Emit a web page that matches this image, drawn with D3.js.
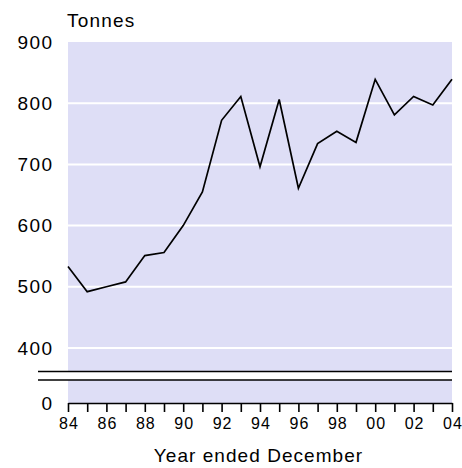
<!DOCTYPE html>
<html>
<head>
<meta charset="utf-8">
<script src="https://cdn.jsdelivr.net/npm/d3@7"></script>
<style>
  html, body { margin: 0; padding: 0; background: #ffffff; }
  svg { display: block; }
  text { font-family: "Liberation Sans", Arial, sans-serif; fill: #000; }
</style>
</head>
<body>
<svg id="chart" width="462" height="468"></svg>
<script>
// ---- data ----
const years = [1984,1985,1986,1987,1988,1989,1990,1991,1992,1993,1994,1995,1996,1997,1998,1999,2000,2001,2002,2003,2004];
const tonnes = [533,492,500,508,551,556,600,655,772,811,696,806,661,734,754,736,839,781,811,797,839];
const yTickValues = [400,500,600,700,800,900];
const yBreakLabel = "0";
const yUnitLabel = "Tonnes";
const xTitle = "Year ended December";

// ---- layout ----
const plotLeft = 68, plotRight = 452, plotTop = 42, plotBottom = 403;
const breakTop = 371.5, breakBottom = 380;
const FONT = "Liberation Sans, Arial, sans-serif";

const svg = d3.select("#chart");

const x = d3.scaleLinear().domain([1984, 2004]).range([plotLeft, plotRight]);
const y = d3.scaleLinear().domain([400, 900]).range([348, plotTop]);

// plot background
svg.append("rect")
  .attr("x", plotLeft).attr("y", plotTop)
  .attr("width", plotRight - plotLeft).attr("height", plotBottom - plotTop)
  .attr("fill", "#dedef6");

// gridlines
svg.append("g")
  .selectAll("line")
  .data(yTickValues.filter(v => v < 900))
  .join("line")
  .attr("x1", plotLeft).attr("x2", plotRight)
  .attr("y1", d => y(d)).attr("y2", d => y(d))
  .attr("stroke", "#ffffff")
  .attr("stroke-width", 2);

// axis break band
svg.append("rect")
  .attr("x", 38).attr("y", breakTop)
  .attr("width", plotRight - 38).attr("height", breakBottom - breakTop)
  .attr("fill", "#ffffff");
[breakTop, breakBottom].forEach(yy => {
  svg.append("line")
    .attr("x1", 38).attr("x2", plotRight)
    .attr("y1", yy).attr("y2", yy)
    .attr("stroke", "#000").attr("stroke-width", 1.6);
});

// y labels
const yAxis = d3.axisLeft(y)
  .tickValues(yTickValues)
  .tickSize(0)
  .tickPadding(0)
  .tickFormat(d3.format("d"));
const gy = svg.append("g")
  .attr("transform", `translate(53.4,0)`)
  .call(yAxis);
gy.select(".domain").remove();
gy.selectAll("text")
  .attr("font-size", 19)
  .attr("font-family", FONT)
  .attr("letter-spacing", 1.4)
  .attr("fill", "#000");

svg.append("text")
  .attr("x", 53.4).attr("y", plotBottom)
  .attr("dy", "0.36em")
  .attr("text-anchor", "end")
  .attr("font-size", 19)
  .attr("letter-spacing", 1.4)
  .text(yBreakLabel);

svg.append("text")
  .attr("x", 67).attr("y", 27)
  .attr("font-size", 19)
  .attr("letter-spacing", 1.2)
  .text(yUnitLabel);

// x axis
const xAxis = d3.axisBottom(x)
  .tickValues(years)
  .tickSize(9)
  .tickSizeOuter(0)
  .tickPadding(6)
  .tickFormat(d => (d % 2 === 0) ? String(d).slice(2) : "");
const gx = svg.append("g")
  .attr("transform", `translate(0,${plotBottom})`)
  .call(xAxis);
gx.select(".domain").attr("stroke", "#000").attr("stroke-width", 1.6);
gx.selectAll(".tick line").attr("stroke", "#000").attr("stroke-width", 1.6);
gx.selectAll("text")
  .attr("font-size", 16)
  .attr("font-family", FONT)
  .attr("letter-spacing", 1)
  .attr("dx", 0.5)
  .attr("fill", "#000");

svg.append("text")
  .attr("x", 258.5).attr("y", 462)
  .attr("text-anchor", "middle")
  .attr("font-size", 19)
  .attr("letter-spacing", 1.05)
  .text(xTitle);

// data line
const line = d3.line()
  .x((d, i) => x(years[i]))
  .y(d => y(d));
svg.append("path")
  .datum(tonnes)
  .attr("d", line)
  .attr("fill", "none")
  .attr("stroke", "#000")
  .attr("stroke-width", 1.7)
  .attr("stroke-linejoin", "miter");
</script>
</body>
</html>
